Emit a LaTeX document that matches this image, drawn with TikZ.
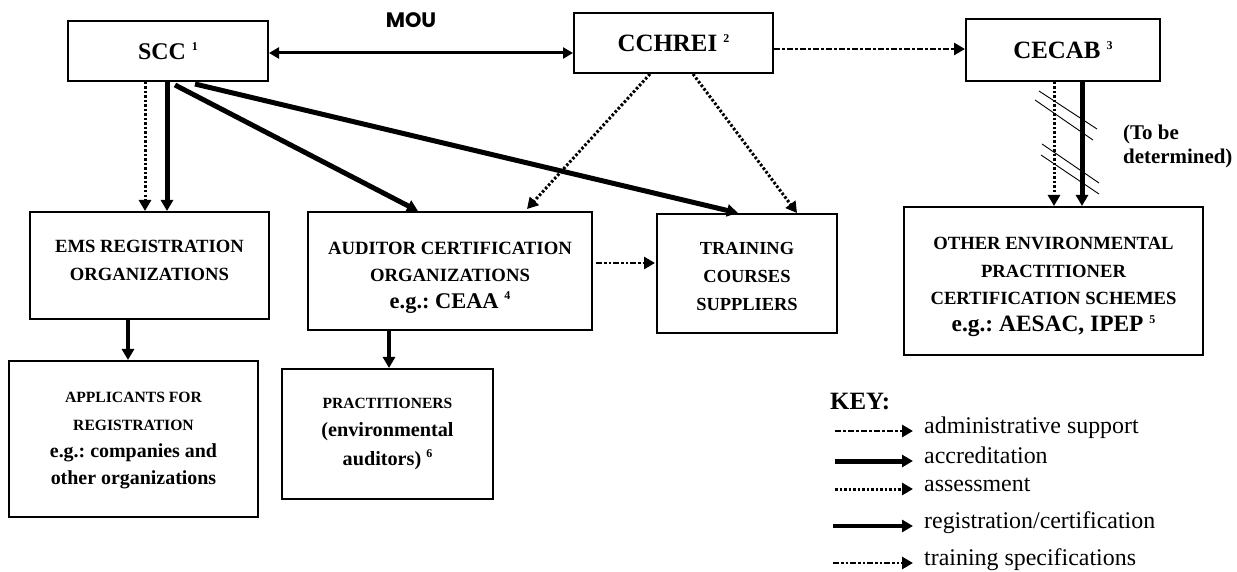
\documentclass[tikz,border=0pt]{standalone}
\usepackage{fontspec}
\setmainfont{Liberation Serif}
\newfontfamily\moufont{Poppins}
\usetikzlibrary{arrows.meta}
\frenchspacing
\newcommand\supnum[1]{\raisebox{0.38em}{\fontsize{12}{12}\selectfont #1}}
\tikzset{
  box/.style={draw, line width=2bp, inner sep=0pt, align=center},
  tipa/.style={-{Triangle[length=11bp,width=12bp]}},
  accred/.style={line width=5bp, tipa},
  regc/.style={line width=3.2bp, tipa},
  assess/.style={line width=3bp, dash pattern=on 2.5bp off 2bp, tipa},
  admin/.style={line width=2.8bp, dash pattern=on 5.5bp off 2.5bp on 2.5bp off 2.5bp, tipa},
  trainspec/.style={line width=2.8bp, dash pattern=on 6bp off 2bp on 2.5bp off 2bp on 2.5bp off 2bp, tipa},
  mou/.style={line width=3bp, {Triangle[length=10bp,width=11bp]}-{Triangle[length=10bp,width=11bp]}},
  hatch/.style={line width=0.9bp},
  legtext/.style={anchor=mid west, inner sep=0pt, font=\fontsize{24}{27}\selectfont},
}
\begin{document}
\begin{tikzpicture}[x=1bp,y=-1bp]
\useasboundingbox (0,0) rectangle (1237,572);
% top row
\node[box, minimum width=200bp, minimum height=60bp, font=\bfseries\fontsize{24}{28}\selectfont] (scc) at (168,51) {SCC \supnum{1}};
\node[box, minimum width=199bp, minimum height=60bp, font=\bfseries\fontsize{25}{28}\selectfont] (cchrei) at (673.5,43) {CCHREI \supnum{2}};
\node[box, minimum width=194bp, minimum height=62bp, font=\bfseries\fontsize{25}{28}\selectfont] (cecab) at (1063,50) {CECAB \supnum{3}};
\node[font=\moufont\bfseries\fontsize{21}{24}\selectfont, inner sep=0pt] (mou) at (411,20) {MOU};
% middle row
\node[box, minimum width=239bp, minimum height=107bp, text depth=10bp, font=\bfseries\fontsize{18.7}{28}\selectfont] (ems) at (149.5,265.5) {EMS REGISTRATION\\ORGANIZATIONS};
\node[box, minimum width=284bp, minimum height=118bp, text height=79bp, font=\bfseries\fontsize{18.8}{27}\selectfont] (auditor) at (450,271) {AUDITOR CERTIFICATION\\ORGANIZATIONS\\{\fontsize{22.5}{27}\selectfont e.g.: CEAA \supnum{4}}};
\node[box, minimum width=180bp, minimum height=119bp, text height=74.5bp, font=\bfseries\fontsize{18.5}{28}\selectfont] (training) at (747,273.5) {TRAINING\\COURSES\\SUPPLIERS};
\node[box, minimum width=299bp, minimum height=148bp, text height=107bp, font=\bfseries\fontsize{18.7}{27.5}\selectfont] (other) at (1053.5,281) {OTHER ENVIRONMENTAL\\PRACTITIONER\\CERTIFICATION SCHEMES\\{\fontsize{23.5}{27.5}\selectfont e.g.: AESAC, IPEP \supnum{5}}};
% bottom row
\node[box, minimum width=249bp, minimum height=156bp, text height=96bp, font=\bfseries\fontsize{15.7}{27.5}\selectfont] (applicants) at (133.5,439) {APPLICANTS FOR\\REGISTRATION\\{\fontsize{20}{27}\selectfont e.g.: companies and}\\{\fontsize{20}{27}\selectfont other organizations}};
\node[box, minimum width=211bp, minimum height=130bp, font=\bfseries\fontsize{15.6}{28.5}\selectfont] (pract) at (387.5,434) {PRACTITIONERS\\{\fontsize{20.3}{28}\selectfont (environmental}\\{\fontsize{20.3}{28}\selectfont auditors) \supnum{6}}};
% note
\node[anchor=north west, inner sep=0pt, align=left, font=\bfseries\fontsize{21}{24}\selectfont] (tbd) at (1123,125) {(To be\\determined)};
% connectors
\draw[mou] ([yshift=-2bp]scc.east) -- ([yshift=-2bp]scc.east -| cchrei.west);
\draw[admin] ([yshift=-6bp]cchrei.east) -- ([yshift=-6bp]cchrei.east -| cecab.west);
\draw[assess] ([xshift=-23bp]scc.south) -- ([xshift=-23bp]scc.south |- ems.north);
\draw[accred] ([xshift=-1bp]scc.south) -- ([xshift=-1bp]scc.south |- ems.north);
\draw[accred] ([xshift=7bp,yshift=-3bp]scc.south) -- ([xshift=-32bp]auditor.north);
\draw[accred] ([xshift=27bp,yshift=-2bp]scc.south) -- ([xshift=-9bp]training.north);
\draw[assess] ([xshift=-23.5bp]cchrei.south) -- ([xshift=77bp,yshift=2bp]auditor.north);
\draw[assess] ([xshift=19.5bp]cchrei.south) -- ([xshift=50bp]training.north);
\draw[trainspec, shorten >=4bp] ([xshift=3bp,yshift=8bp]auditor.east) -- ([xshift=3bp,yshift=8bp]auditor.east -| training.west);
\draw[assess] ([xshift=-9bp]cecab.south) -- ([xshift=-9bp]cecab.south |- other.north);
\draw[accred] ([xshift=19bp]cecab.south) -- ([xshift=19bp]cecab.south |- other.north);
\draw[regc] ([xshift=-21.5bp]ems.south) -- ([xshift=-21.5bp]ems.south |- applicants.north);
\draw[regc] ([xshift=-61bp]auditor.south) -- ([xshift=-61bp]auditor.south |- pract.north);
% hatch marks
\draw[hatch] (1039,91) -- (1097,129);
\draw[hatch] (1035,100) -- (1093,140);
\draw[hatch] (1042,144) -- (1099,183);
\draw[hatch] (1041,155) -- (1099,194);
% key
\node[anchor=west, inner sep=0pt, font=\bfseries\fontsize{25}{30}\selectfont] (key) at (830,402) {KEY:};
\coordinate (k1s) at (835,431); \coordinate (k1e) at (913,431);
\coordinate (k2s) at (835,461); \coordinate (k2e) at (913,461);
\coordinate (k3s) at (835,489); \coordinate (k3e) at (913,489);
\coordinate (k4s) at (833,526); \coordinate (k4e) at (913,526);
\coordinate (k5s) at (833,563); \coordinate (k5e) at (913,563);
\draw[admin] (k1s) -- (k1e);
\draw[accred] (k2s) -- (k2e);
\draw[assess] (k3s) -- (k3e);
\draw[regc] (k4s) -- (k4e);
\draw[trainspec] (k5s) -- (k5e);
\node[legtext] (l1) at (924,431) {administrative support};
\node[legtext] (l2) at (924,461) {accreditation};
\node[legtext] (l3) at (924,489) {assessment};
\node[legtext] (l4) at (924,526) {registration/certification};
\node[legtext] (l5) at (924,563) {training specifications};
\end{tikzpicture}
\end{document}
